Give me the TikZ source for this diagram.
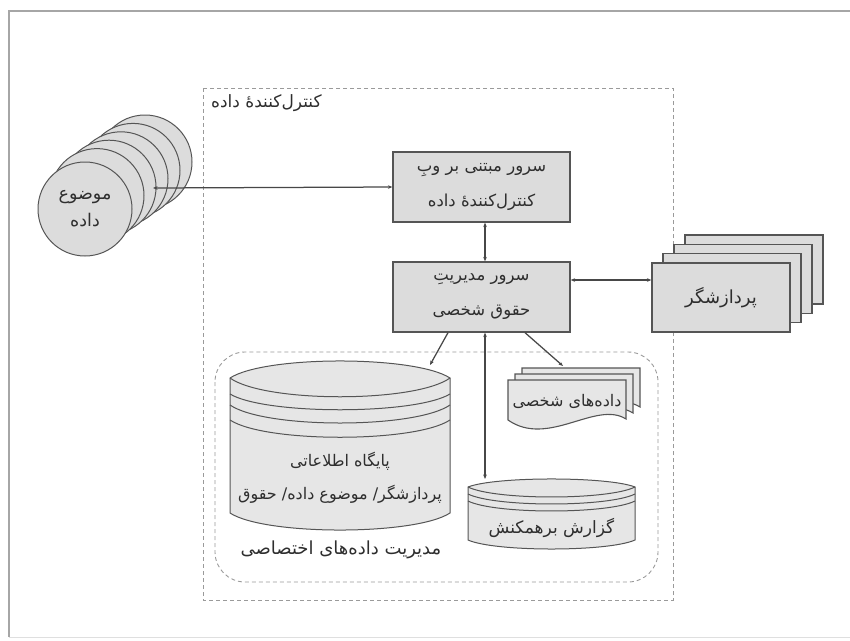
\documentclass[tikz,border=0pt]{standalone}
\usepackage{fontspec}
\usetikzlibrary{arrows.meta,calc}
\newfontfamily\fa[Script=Arabic]{DejaVu Sans}
\TeXXeTstate=1
\newcommand{\rl}[1]{\beginR #1\endR}

\definecolor{edge}{HTML}{555555}
\definecolor{wire}{HTML}{474747}
\definecolor{boxfill}{HTML}{DCDCDC}
\definecolor{lightfill}{HTML}{E6E6E6}
\definecolor{dashgray}{HTML}{9A9A9A}
\definecolor{ink}{HTML}{2E2E2E}

\begin{document}
\begin{tikzpicture}[x=1pt,y=-1pt,
  server/.style={draw=edge, line width=1.3pt, fill=boxfill, minimum width=177pt,
    minimum height=70pt, inner sep=0pt, align=center, text=ink,
    font=\fa\fontsize{16.5}{35}\selectfont},
  stackbox/.style={draw=edge, line width=1.3pt, fill=boxfill},
  disc/.style={draw=edge, line width=1pt, fill=boxfill},
  store/.style={draw=edge, line width=1pt, fill=lightfill},
  stripe/.style={draw=edge, line width=1pt},
  label/.style={text=ink, inner sep=0pt, align=center},
  link/.style={draw=wire, line width=1.25pt},
  tipboth/.style={link, {Stealth[length=4.5pt,width=3.6pt]}-{Stealth[length=4.5pt,width=3.6pt]}},
  tipend/.style={link, -{Stealth[length=4.5pt,width=3.6pt]}},
  region/.style={draw=dashgray, line width=0.9pt, dash pattern=on 4pt off 3pt}
]
\useasboundingbox (0,0) rectangle (850,640);

% page frame
\draw[gray!70, line width=1.6pt] (9,637) -- (9,11) -- (850,11);
\draw[gray!25, line width=0.8pt] (9,637) -- (850,637);

% data controller region
\draw[region] (203,88) rectangle (673,600);
\node[label, anchor=west, font=\fa\fontsize{17}{20}\selectfont] (ctrl) at (211,103) {\rl{کنترل‌کنندهٔ داده}};

% private data management region
\draw[region, rounded corners=30pt] (215,352) rectangle (658,582);
\node[label, font=\fa\fontsize{18}{20}\selectfont] (pdm) at (341,550) {\rl{مدیریت داده‌های اختصاصی}};

% data subjects
\foreach \i in {5,4,...,1}
  \draw[disc] (85+12*\i,204-8.4*\i) circle (47);
\node[disc, circle, minimum size=94pt, inner sep=0pt, align=center, text=ink,
      font=\fa\fontsize{17.5}{27}\selectfont] (subj) at (85,209) {\rl{موضوع}\\\rl{داده}};
\coordinate (subjport) at (153,188);

% servers
\node[server] (web) at (481.5,187) {\rl{سرور مبتنی بر وبِ}\\\rl{کنترل‌کنندهٔ داده}};
\node[server] (priv) at (481.5,297) {\rl{سرور مدیریتِ}\\\rl{حقوق شخصی}};

% processors
\foreach \i in {3,2,1}
  \draw[stackbox] (652+11*\i,263-9.3*\i) rectangle ++(138,69);
\node[stackbox, minimum width=138pt, minimum height=69pt, inner sep=0pt, text=ink,
      font=\fa\fontsize{18}{20}\selectfont] (proc) at (721,297.5) {\rl{پردازشگر}};

% processor / data subject / rights database
\path[store] (230,378) .. controls (265,355.3) and (415,355.3) .. (450,378)
  -- (450,513) .. controls (415,535.7) and (265,535.7) .. (230,513) -- cycle;
\draw[stripe] (230,378) .. controls (265,403) and (415,403) .. (450,378);
\draw[stripe] (230,394) .. controls (265,415) and (415,415) .. (450,394);
\draw[stripe] (230,405) .. controls (265,429) and (415,429) .. (450,405);
\draw[stripe] (230,420) .. controls (265,443) and (415,443) .. (450,420);
\coordinate (dbtop) at (430,365);
\node[label, font=\fa\fontsize{16}{33}\selectfont] (db) at (340,478)
  {\rl{پایگاه اطلاعاتی}\\\rl{پردازشگر/ موضوع داده/ حقوق}};

% interaction log
\path[store] (468,487) .. controls (495,476.3) and (608,476.3) .. (635,487)
  -- (635,540) .. controls (608,552) and (495,552) .. (468,540) -- cycle;
\draw[stripe] (468,487) .. controls (495,500.3) and (608,500.3) .. (635,487);
\draw[stripe] (468,494) .. controls (495,507.3) and (608,507.3) .. (635,494);
\draw[stripe] (468,501) .. controls (495,514.3) and (608,514.3) .. (635,501);
\node[label, font=\fa\fontsize{17}{20}\selectfont] (log) at (551.5,528) {\rl{گزارش برهمکنش}};
\coordinate (logtop) at (485,479);

% personal data documents
\foreach \i in {2,1,0}
  \draw[store, line width=1.1pt, shift={(7*\i,-6*\i)}]
    (508,380) -- (626,380) -- (626,419)
    .. controls (596,400) and (548,448) .. (508,420) -- cycle;
\node[label, font=\fa\fontsize{16}{20}\selectfont] (docs) at (567,401) {\rl{داده‌های شخصی}};
\coordinate (docstop) at (563,366);

% connectors
\draw[tipboth] (subjport) -- (web.west);
\draw[tipboth] ([xshift=3.5pt]web.south) -- ([xshift=3.5pt]priv.north);
\draw[tipboth] ($(priv.east)+(0,-17)$) -- ($(proc.west)+(0,-17.5)$);
\draw[tipend] ($(priv.south)+(-33.5,0)$) -- (dbtop);
\draw[tipboth] ([xshift=3.5pt]priv.south) -- (logtop);
\draw[tipend] ($(priv.south)+(43.5,0)$) -- (docstop);
\end{tikzpicture}
\end{document}
